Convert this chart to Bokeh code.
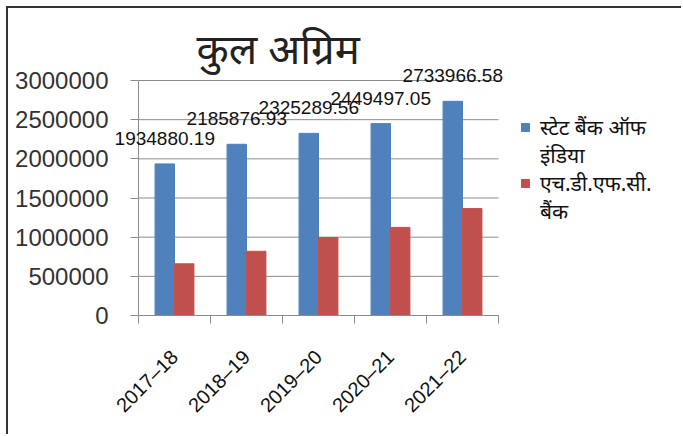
import math
from bokeh.plotting import figure
from bokeh.models import (Range1d, FixedTicker, LabelSet, Label, ColumnDataSource,
                          Legend, LegendItem)
from bokeh.transform import dodge
from bokeh.embed import file_html
from bokeh.resources import INLINE
from bokeh.core.properties import value

# ---- data ----
years = ["2017–18", "2018–19", "2019–20", "2020–21", "2021–22"]
sbi = [1934880.19, 2185876.93, 2325289.56, 2449497.05, 2733966.58]
hdfc = [660000, 820000, 995000, 1125000, 1365000]
sbi_labels = ["1934880.19", "2185876.93", "2325289.56", "2449497.05", "2733966.58"]
y_ticks = [0, 500000, 1000000, 1500000, 2000000, 2500000, 3000000]
y_max = 3000000
title_text = "कुल अग्रिम"
legend_sbi = ["स्टेट बैंक ऑफ", "इंडिया"]
legend_hdfc = ["एच.डी.एफ.सी.", "बैंक"]

BLUE = "#4F81BD"
RED = "#C0504D"
GRID = "#8c8c8c"
FONT = "Liberation Sans"
DEV = "Noto Sans"

# ---- layout (pixels on the canvas) ----
W, H = 675, 428
AXIS_X = 130             # where the value axis sits
CAT_W = 72               # pixels per category
AXIS_BOTTOM = 307        # canvas y of the zero line
PLOT_H = 235             # pixels from 0 to y_max

n = len(years)
x_start = -AXIS_X / CAT_W
x_end = x_start + W / CAT_W
y_start = -y_max * (H - AXIS_BOTTOM) / PLOT_H
y_end = y_max * AXIS_BOTTOM / PLOT_H

xc = [i + 0.5 for i in range(n)]
src = ColumnDataSource(dict(x=xc, sbi=sbi, hdfc=hdfc, lab=sbi_labels))

p = figure(width=W, height=H, output_backend="svg", toolbar_location=None,
           x_range=Range1d(x_start, x_end), y_range=Range1d(y_start, y_end),
           min_border_left=0, min_border_right=0, min_border_top=0,
           min_border_bottom=0)
p.styles = {"margin-left": "6px", "margin-top": "6px",
            "border-left": "2px solid #333333", "border-top": "2px solid #333333"}
p.outline_line_color = None
p.background_fill_color = "white"
p.border_fill_color = "white"
p.xgrid.grid_line_color = None
p.ygrid.grid_line_color = None

# horizontal gridlines, limited to the category span
p.segment(x0=0, x1=n, y0=y_ticks, y1=y_ticks, line_color=GRID, line_width=1,
          level="underlay")

w = 0.27
rb = p.vbar(x=dodge("x", -w / 2), top="sbi", width=w, source=src,
            fill_color=BLUE, line_color=BLUE)
rr = p.vbar(x=dodge("x", w / 2), top="hdfc", width=w, source=src,
            fill_color=RED, line_color=RED)
blank = p.scatter(x=[], y=[], marker="square", fill_alpha=0, line_alpha=0)

labels = LabelSet(x=dodge("x", -w / 2), y="sbi", text="lab", source=src,
                  text_align="center", text_baseline="bottom", y_offset=19,
                  text_font=value(FONT), text_font_size="19px", text_color="#111111")
p.add_layout(labels)

title = Label(x=188, y=389, x_units="screen", y_units="screen", text=title_text,
              text_font=DEV, text_font_size="42px", text_color="#222222",
              text_baseline="middle", text_align="left")
p.add_layout(title)

# axes
ya = p.yaxis[0]
ya.fixed_location = 0
ya.bounds = (0, y_max)
ya.ticker = FixedTicker(ticks=y_ticks)
ya.major_label_overrides = {t: str(t) for t in y_ticks}
ya.axis_line_color = GRID
ya.major_tick_line_color = GRID
ya.major_tick_out = 8
ya.major_tick_in = 0
ya.minor_tick_line_color = None
ya.major_label_text_font = FONT
ya.major_label_text_font_size = "24px"
ya.major_label_text_color = "#333333"
ya.major_label_standoff = 22

xa = p.xaxis[0]
xa.fixed_location = 0
xa.bounds = (0, n)
xa.ticker = FixedTicker(ticks=xc, minor_ticks=list(range(n + 1)))
xa.major_label_overrides = {x: y for x, y in zip(xc, years)}
xa.axis_line_color = GRID
xa.major_tick_line_color = None
xa.minor_tick_line_color = GRID
xa.minor_tick_out = 8
xa.minor_tick_in = 0
xa.major_label_orientation = math.pi / 4
xa.major_label_text_font = FONT
xa.major_label_text_font_size = "20px"
xa.major_label_text_color = "#111111"
xa.major_label_standoff = 30

legend = Legend(items=[
    LegendItem(label=legend_sbi[0], renderers=[rb]),
    LegendItem(label=legend_sbi[1], renderers=[blank]),
    LegendItem(label=legend_hdfc[0], renderers=[rr]),
    LegendItem(label=legend_hdfc[1], renderers=[blank]),
], location=(512, 211), orientation="vertical")
legend.border_line_color = None
legend.background_fill_alpha = 0
legend.padding = 0
legend.margin = 0
legend.spacing = 0
legend.glyph_width = 10
legend.glyph_height = 10
legend.label_height = 27
legend.label_standoff = 10
legend.label_text_font = DEV
legend.label_text_font_size = "21px"
legend.label_text_color = "#111111"
p.add_layout(legend)

open("out.html", "w").write(file_html(p, INLINE))
